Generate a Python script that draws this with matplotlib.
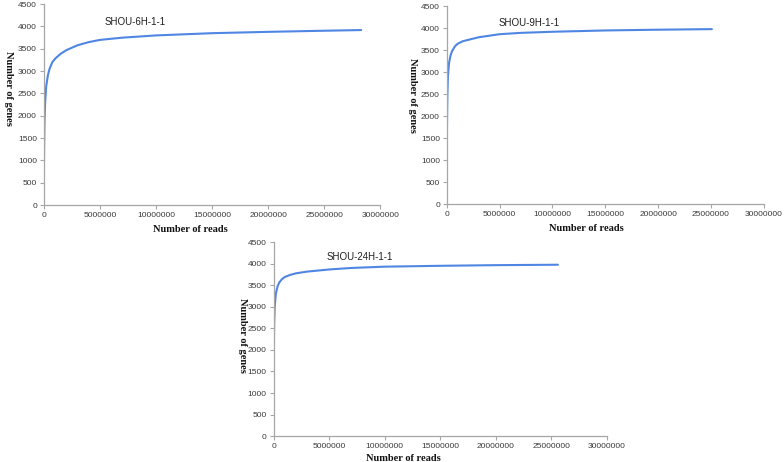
import matplotlib
matplotlib.use("Agg")
import matplotlib.pyplot as plt

# rarefaction curves (reads, genes)
reads_6h = [0, 20000, 50000, 100000, 200000, 350000, 500000, 750000, 1000000, 1500000,
            2000000, 3000000, 4000000, 5000000, 7000000, 10000000, 15000000,
            20000000, 25000000, 28300000]
genes_6h = [750, 1300, 1800, 2250, 2650, 2900, 3050, 3200, 3280, 3390,
            3470, 3580, 3650, 3700, 3750, 3800, 3850, 3880, 3905, 3920]

reads_9h = [0, 20000, 50000, 100000, 200000, 350000, 500000, 750000, 1000000, 1500000,
            2000000, 3000000, 5000000, 7000000, 10000000, 15000000, 20000000, 25100000]
genes_9h = [1400, 2000, 2500, 2900, 3200, 3380, 3480, 3580, 3640, 3700,
            3730, 3790, 3860, 3890, 3915, 3945, 3962, 3975]

reads_24h = [0, 20000, 50000, 100000, 200000, 350000, 500000, 750000, 1000000, 1500000,
             2000000, 3000000, 5000000, 7000000, 10000000, 15000000, 20000000, 25600000]
genes_24h = [1350, 2000, 2600, 3000, 3300, 3470, 3560, 3640, 3690, 3740,
             3775, 3815, 3865, 3900, 3930, 3950, 3965, 3975]

sample_names = ["SHOU-6H-1-1", "SHOU-9H-1-1", "SHOU-24H-1-1"]
x_ticks = [0, 5000000, 10000000, 15000000, 20000000, 25000000, 30000000]
y_ticks = [0, 500, 1000, 1500, 2000, 2500, 3000, 3500, 4000, 4500]

LINE_C = "#4f86e3"
SPINE_C = "#a6a6a6"
TEXT_C = "#3a3a3a"

fig = plt.figure(figsize=(7.84, 4.62), dpi=100)
panels = [
    # rect, series, name pos, xlabel pos, ylabel pos
    ([0.056, 0.556, 0.429, 0.435], (reads_6h, genes_6h), (5.4e6, 4100), (0.435, -0.1), (-0.118, 0.58)),
    ([0.570, 0.558, 0.404, 0.429], (reads_9h, genes_9h), (4.9e6, 4110), (0.44, -0.1), (-0.123, 0.55)),
    ([0.349, 0.056, 0.425, 0.420], (reads_24h, genes_24h), (4.8e6, 4150), (0.39, -0.093), (-0.108, 0.52)),
]

for (rect, (xs, ys), tpos, xl, yl), name in zip(panels, sample_names):
    ax = fig.add_axes(rect)
    ax.plot(xs, ys, color=LINE_C, lw=1.5, solid_capstyle="round")
    ax.set_xlim(0, 30000000)
    ax.set_ylim(0, 4500)
    ax.set_xticks(x_ticks)
    ax.set_yticks(y_ticks)
    ax.set_xticklabels([str(t) for t in x_ticks])
    for s in ("top", "right"):
        ax.spines[s].set_visible(False)
    for s in ("left", "bottom"):
        ax.spines[s].set_color(SPINE_C)
        ax.spines[s].set_linewidth(0.9)
    ax.tick_params(direction="out", length=3, width=0.8, color=SPINE_C,
                   labelsize=6, labelcolor=TEXT_C, pad=2)
    for lab in ax.get_xticklabels() + ax.get_yticklabels():
        lab.set_family("Liberation Sans")
    ax.text(tpos[0], tpos[1], name, ha="left", va="center", fontsize=7,
            family="Liberation Sans", color="#202020")
    ax.set_xlabel("Number of reads", family="Liberation Serif", fontweight="bold",
                  fontsize=7.5, color="#111111")
    ax.set_ylabel("Number of genes", family="Liberation Serif", fontweight="bold",
                  fontsize=7.5, color="#111111", rotation=-90)
    ax.xaxis.set_label_coords(*xl)
    ax.yaxis.set_label_coords(*yl)

fig.savefig("out.png", dpi=100, facecolor="white")
